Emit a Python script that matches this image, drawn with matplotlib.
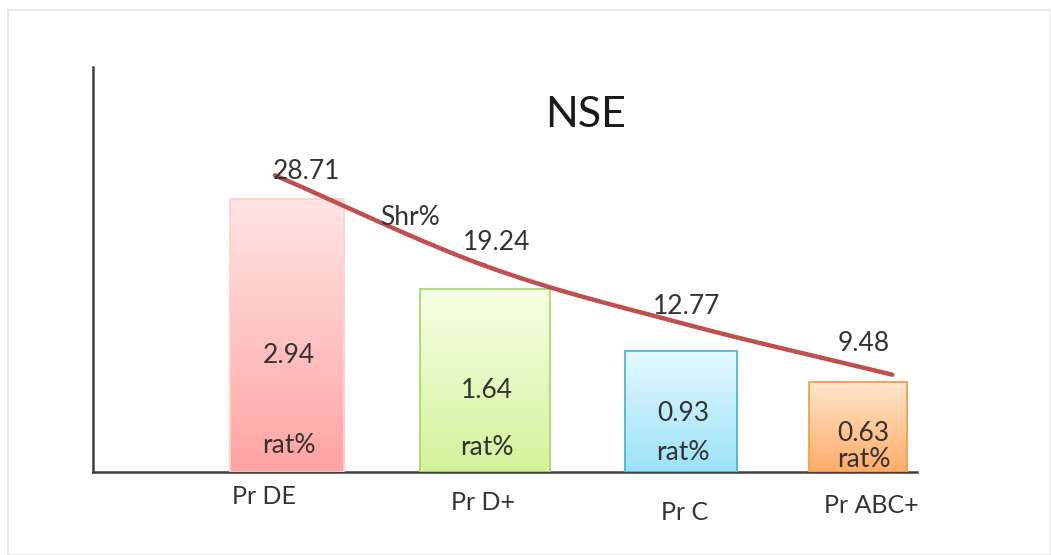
import numpy as np
import matplotlib
matplotlib.use("Agg")
import matplotlib.pyplot as plt
from matplotlib.colors import LinearSegmentedColormap
from matplotlib.patches import Rectangle

# ---- data ----
categories = ["Pr DE", "Pr D+", "Pr C", "Pr ABC+"]
shr_values = [28.71, 19.24, 12.77, 9.48]
rat_values = [2.94, 1.64, 0.93, 0.63]
title = "NSE"
line_label = "Shr%"
rat_label = "rat%"

# ---- styles / layout ----
top_colors = ["#ffe4e4", "#f6ffe4", "#e4f9ff", "#ffe6cc"]
bottom_colors = ["#ffa3a3", "#d3f29a", "#9ce2f7", "#ffac68"]
edge_colors = ["#ffd0d0", "#a9d76e", "#4fb6d6", "#f0a050"]
bar_dx = [0.0, 0.04, 0.07, 0.0]
bar_widths = [0.60, 0.68, 0.59, 0.51]
rat_num_y = [12.3, 8.6, 6.2, 4.0]
rat_lbl_y = [2.8, 2.6, 2.1, 1.3]
rat_x_off = [0.01, 0.01, 0.01, 0.03]
shr_lbl_x = [0.10, 1.10, 2.10, 3.03]
shr_lbl_y = [31.6, 24.1, 17.4, 13.5]
cat_lbl_x = [-0.12, 1.03, 2.09, 3.07]
cat_lbl_dy = [-18, -22, -29.5, -24]
line_dx = [-0.064, 0.0, 0.0, 0.18]
line_dy = [2.5, 2.45, 2.9, 0.75]
text_color = "#333333"
line_color = "#c0504d"
FONT = ["Lato", "DejaVu Sans"]
FS = 19

fig = plt.figure(figsize=(10.51, 5.55), dpi=100)
fig.patches.append(Rectangle((8 / 1051, 0), 1 - 8 / 1051, 1 - 10 / 555,
                             transform=fig.transFigure, fill=False,
                             edgecolor="#e2e2e2", linewidth=1.2))

ax = fig.add_axes([93 / 1051, (555 - 472) / 555, (917 - 93) / 1051, (472 - 67) / 555])
x = np.arange(len(categories)) + np.array(bar_dx)

# bars with vertical gradient
for i, (v, w) in enumerate(zip(shr_values, bar_widths)):
    bar = ax.bar(x[i], v, width=w, facecolor="none",
                 edgecolor=edge_colors[i], linewidth=1.3, zorder=3)[0]
    cmap = LinearSegmentedColormap.from_list("g%d" % i, [bottom_colors[i], top_colors[i]])
    grad = np.linspace(0, 1, 256).reshape(-1, 1)
    im = ax.imshow(grad, cmap=cmap, origin="lower", aspect="auto",
                   extent=[x[i] - w / 2, x[i] + w / 2, 0, v], zorder=2)
    im.set_clip_path(bar)
    ax.text(x[i] + rat_x_off[i], rat_num_y[i], f"{rat_values[i]:.2f}", ha="center",
            va="center", fontsize=FS, color=text_color, family=FONT, zorder=5)
    ax.text(x[i] + rat_x_off[i], rat_lbl_y[i], rat_label, ha="center",
            va="center", fontsize=FS, color=text_color, family=FONT, zorder=5)
    ax.text(shr_lbl_x[i], shr_lbl_y[i], f"{shr_values[i]:.2f}", ha="center",
            va="center", fontsize=FS, color=text_color, family=FONT, zorder=5)

ax.set_xlim(-1.02, 3.31)
ax.set_ylim(0, 42.6)

# smooth share line (Catmull-Rom through the points)
px = np.array([x[i] + line_dx[i] for i in range(len(x))], dtype=float)
py = np.array([shr_values[i] + line_dy[i] for i in range(len(x))], dtype=float)
P = np.column_stack([px, py])
Pext = np.vstack([2 * P[0] - P[1], P, 2 * P[-1] - P[-2]])
curve = []
t = np.linspace(0, 1, 40)[:, None]
for k in range(1, len(Pext) - 2):
    p0, p1, p2, p3 = Pext[k - 1], Pext[k], Pext[k + 1], Pext[k + 2]
    seg = 0.5 * ((2 * p1) + (-p0 + p2) * t + (2 * p0 - 5 * p1 + 4 * p2 - p3) * t ** 2
                 + (-p0 + 3 * p1 - 3 * p2 + p3) * t ** 3)
    curve.append(seg)
curve = np.vstack(curve)
ax.plot(curve[:, 0], curve[:, 1], color=line_color, linewidth=3.2,
        solid_capstyle="round", zorder=4)
ax.text(0.645, 26.8, line_label, ha="center", va="center", fontsize=FS,
        color=text_color, family=FONT, zorder=5)

# category labels
for i, c in enumerate(categories):
    ax.annotate(c, (cat_lbl_x[i], 0), xytext=(0, cat_lbl_dy[i]),
                textcoords="offset points", ha="center", va="center",
                fontsize=18, color=text_color, family=FONT, annotation_clip=False)

ax.text(1.57, 37.6, title, ha="center", va="center", fontsize=31,
        color="#1a1a1a", family=FONT)

for s in ["top", "right"]:
    ax.spines[s].set_visible(False)
for s in ["left", "bottom"]:
    ax.spines[s].set_color("#404040")
    ax.spines[s].set_linewidth(1.8)
ax.set_xticks([])
ax.set_yticks([])
ax.patch.set_alpha(0)

fig.savefig("out.png", dpi=100)
